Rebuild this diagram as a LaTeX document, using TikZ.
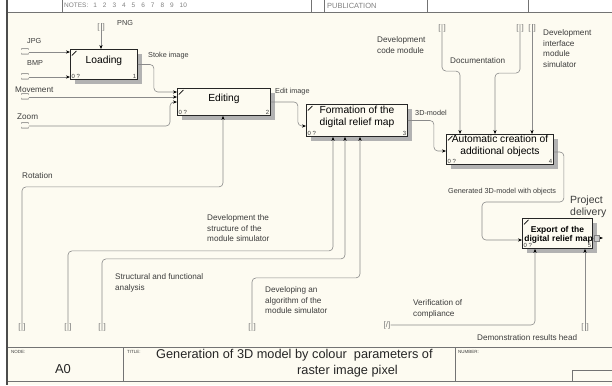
\documentclass[tikz,border=0pt]{standalone}
\usepackage{fontspec}
\setmainfont{Liberation Sans}
\usepackage{xcolor}
\usepackage{tikz}
\usetikzlibrary{arrows.meta, positioning, calc}
\definecolor{paper}{HTML}{FDFBF1}
\definecolor{wire}{HTML}{8A8A8A}
\definecolor{ink}{HTML}{3C3C3C}
\newcommand{\fsz}[2]{\fontsize{#1}{#2}\selectfont}
\tikzset{
    actbox/.style={rectangle, draw=black!85, line width=0.9bp, fill=paper, anchor=north west,
        inner sep=1bp, align=center, font=\fsz{10.3}{11.5}, text depth=9bp,
        preaction={draw=none, fill=black!30, transform canvas={xshift=4.5bp, yshift=-4.5bp}},
        path picture={\draw[black, line width=0.6bp] ([xshift=1.5bp, yshift=-6bp]path picture bounding box.north west) -- ++(4.5bp,4.5bp);},
        label={[boxno, anchor=south west]south west:0 ?},
        label={[boxno, anchor=south east]south east:#1}},
    boxno/.style={font=\fsz{6}{6}, text=ink, inner sep=1.5bp, text depth=0pt},
    flow/.style={draw=wire, line width=0.6bp, rounded corners=4bp, -{Stealth[length=4bp, width=3.2bp, color=black]}},
    arrlabel/.style={font=\fsz{8.2}{10.5}, text=ink, align=left, inner sep=0pt},
    smalllabel/.style={arrlabel, font=\fsz{7.3}{9}},
    tunnel/.style={font=\fsz{8}{8}, text=black!55, inner sep=0pt},
    tunnelh/.style={tunnel, rotate=90},
    frame/.style={draw=black!55, line width=0.7bp},
    formtext/.style={font=\fsz{4.5}{5}, text=ink, inner sep=0pt, anchor=north west}
}

\begin{document}
\begin{tikzpicture}[x=1bp, y=-1bp]
    \useasboundingbox (0,0) rectangle (612,385);
    \fill[white] (0,0) rectangle (612,385);
    \fill[paper] (7,12) rectangle (612,385);
    \draw[frame] (7,12) -- (612,12);
    \foreach \x in {62,311,324,427,528}
        \draw[frame] (\x,0) -- (\x,12);
    \draw[frame] (7,347) -- (612,347);
    \draw[frame] (7,381) -- (612,381);
    \draw[frame] (123,347) -- (123,381);
    \draw[frame] (455,347) -- (455,381);
    \draw[frame] (572,381) |- (612,370);
    \draw[draw=black!70, line width=1.2bp] (7,0) -- (7,385);
    \begin{scope}
        \clip (8,0) rectangle (612,11.5);
        \node (notes) [font=\fsz{6.5}{7}, text=black!50, inner sep=0pt, anchor=base west] at (64,7.5)
            {NOTES:\hspace{5bp}1\hspace{6bp}2\hspace{6bp}3\hspace{6bp}4\hspace{6bp}5\hspace{6bp}6\hspace{6bp}7\hspace{6bp}8\hspace{6bp}9\hspace{6bp}10};
        \node (publ) [font=\fsz{7.5}{8}, text=black!50, inner sep=0pt, anchor=base west] at (327,8) {PUBLICATION};
    \end{scope}

    \node (load) [actbox=1, minimum width=67bp, minimum height=30bp] at (70,49) {Loading};
    \node (edit) [actbox=2, minimum width=93bp, minimum height=27bp] at (177,88) {Editing};
    \node (form) [actbox=3, minimum width=101bp, minimum height=32bp] at (306,104) {Formation of the\\digital relief map};
    \node (auto) [actbox=4, minimum width=107bp, minimum height=29bp] at (446,134) {Automatic creation of\\additional objects};
    \node (export) [actbox=5, font=\bfseries\fsz{8.5}{10}, minimum width=70bp, minimum height=30bp, text width=66bp, inner sep=2bp] at (522,218) {Export of the\\\mbox{digital relief map}};

    \node (tpng) [tunnel] at (101,27) {[\hspace{3bp}]};
    \node (tjpg) [tunnelh] at (25,52) {[\hspace{3bp}]};
    \node (tbmp) [tunnelh] at (25,77) {[\hspace{3bp}]};
    \node (tmov) [tunnelh] at (25,97) {[\hspace{3bp}]};
    \node (tzoom) [tunnelh] at (25,126) {[\hspace{3bp}]};
    \node (tcode) [tunnel] at (442,28) {[\hspace{3bp}]};
    \node (tdoc) [tunnel] at (520,28) {[\hspace{3bp}]};
    \node (tface) [tunnel] at (532,28) {[\hspace{3bp}]};
    \node (mrot) [tunnel] at (22,327) {[\hspace{3bp}]};
    \node (mstr) [tunnel] at (68,327) {[\hspace{3bp}]};
    \node (mfun) [tunnel] at (102,327) {[\hspace{3bp}]};
    \node (malg) [tunnel] at (252,327) {[\hspace{3bp}]};
    \node (mver) [tunnel] at (387,325) {[/]};
    \node (mdem) [tunnel] at (585,327) {[\hspace{3bp}]};

    \coordinate (estoke) at ($(edit.north west)+(0,4)$);
    \coordinate (ezoom) at ($(edit.north west)+(0,14)$);
    \coordinate (erot) at ($(edit.south west)+(46,0)$);
    \coordinate (fedit) at ($(form.north west)+(0,22)$);
    \coordinate (fstr) at ($(form.south west)+(27,0)$);
    \coordinate (ffun) at ($(form.south west)+(39,0)$);
    \coordinate (falg) at ($(form.south west)+(54,0)$);
    \coordinate (a3d) at ($(auto.north west)+(0,17)$);
    \coordinate (acode) at ($(auto.north west)+(14,0)$);
    \coordinate (adoc) at ($(auto.north west)+(49,0)$);
    \coordinate (aout) at ($(auto.north east)+(0,18)$);
    \coordinate (xin) at ($(export.north west)+(0,22)$);
    \coordinate (xver) at ($(export.south west)+(13,0)$);
    \coordinate (xo1) at ($(export.north east)+(0,20)$);
    \coordinate (xo2) at ($(xo1)+(10,0)$);

    \draw [flow] (tpng.north) -- (tpng.north |- load.north);
    \draw [flow] (tjpg) -- (tjpg -| load.west);
    \draw [flow] (tbmp) -- (tbmp -| load.west);
    \draw [flow] (load.east) -- ++(16,0) |- (estoke);
    \draw [flow] (tmov) -- (tmov -| edit.west);
    \draw [flow] (tzoom) -| ([xshift=-7bp]ezoom) -- (ezoom);
    \draw [flow] (mrot.south) -- ++(0,-144) -| (erot);
    \draw [flow] (edit.east) -- ++(27,0) |- (fedit);
    \draw [flow] (mstr.south) -- ++(0,-80) -| (fstr);
    \draw [flow] (mfun.south) -- ++(0,-72) -| (ffun);
    \draw [flow] (malg.south) -- ++(0,-53) -| (falg);
    \draw [flow] (form.east) -- ++(26,0) |- (a3d);
    \draw [flow] (tcode.north) -- ++(0,47) -| (acode);
    \draw [flow] (tdoc.north) -- ++(0,49) -| (adoc);
    \draw [flow] (tface.north) -- (tface.north |- auto.north);
    \draw [flow] (aout) -- ++(10,0) |- ([xshift=-40bp, yshift=38bp]xin) |- (xin);
    \draw [flow] (mver) -| (xver);
    \draw [flow] (mdem.south) -- (mdem.south |- export.south);
    \draw [flow] (xo1) -- (xo2);
    \node (xicon) [draw=black!50, fill=black!20, line width=0.4bp, minimum width=5bp, minimum height=6bp, inner sep=0pt] at ($(xo1)+(4,0)$) {};

    \node (lpng) [smalllabel, anchor=west] at (117,23) {PNG};
    \node (ljpg) [smalllabel, anchor=west] at (27,41) {JPG};
    \node (lbmp) [smalllabel, anchor=west] at (27,63) {BMP};
    \node (lmov) [arrlabel, anchor=west] at (15,90) {Movement};
    \node (lzoom) [arrlabel, anchor=west] at (17,117) {Zoom};
    \node (lrot) [arrlabel, anchor=west] at (22,176) {Rotation};
    \node (lstoke) [smalllabel, anchor=west] at (148,56) {Stoke image};
    \node (ledit) [smalllabel, anchor=west] at (275,92) {Edit image};
    \node (l3d) [smalllabel, anchor=west] at (415,113) {3D-model};
    \node (lcode) [arrlabel, anchor=north west] at (377,36.5) {Development\\code module};
    \node (ldoc) [arrlabel, anchor=west] at (450,61) {Documentation};
    \node (lface) [arrlabel, anchor=north west] at (543,29.5) {Development\\interface\\module\\simulator};
    \node (lgen) [smalllabel, anchor=west] at (448,192) {Generated 3D-model with objects};
    \node (lproj) [arrlabel, font=\fsz{10.5}{12}, anchor=north west] at (570,195.5) {Project\\delivery};
    \node (lstr) [arrlabel, anchor=north west] at (207,214.5) {Development the\\structure of the\\module simulator};
    \node (lfun) [arrlabel, anchor=north west] at (115,273.5) {Structural and functional\\analysis};
    \node (lalg) [arrlabel, anchor=north west] at (265,286.5) {Developing an\\algorithm of the\\module simulator};
    \node (lver) [arrlabel, anchor=north west] at (413,299.5) {Verification of\\compliance};
    \node (ldem) [arrlabel, anchor=west] at (477,338) {Demonstration results head};

    \node (nodehd) [formtext] at (11,350) {NODE:};
    \node (titlehd) [formtext] at (127,350) {TITLE:};
    \node (numhd) [formtext] at (458,350) {NUMBER:};
    \node (nodeno) [font=\fsz{13}{14}, text=black!85, inner sep=0pt] at (63,369) {A0};
    \node (title) [font=\fsz{12.8}{16}, text=black!85, align=left, anchor=north west, inner sep=0pt] at (156,349.5)
        {Generation of 3D model by colour~ parameters of\\\hspace*{141bp}raster image pixel};
\end{tikzpicture}
\end{document}
